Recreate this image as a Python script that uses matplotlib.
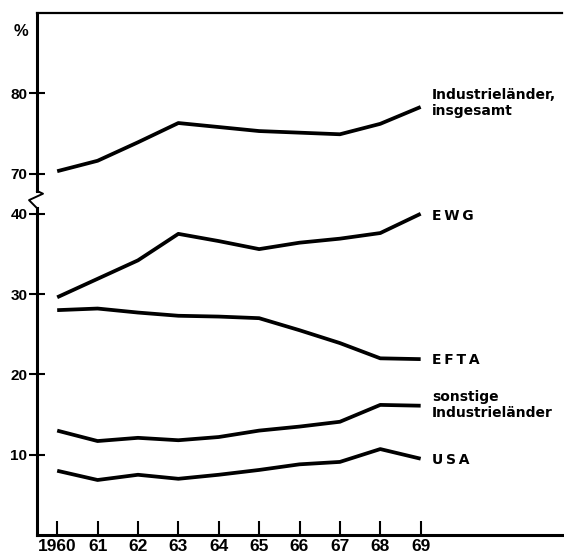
import matplotlib
matplotlib.use("Agg")
import matplotlib.pyplot as plt
from matplotlib import font_manager as fm

years = [1960, 1961, 1962, 1963, 1964, 1965, 1966, 1967, 1968, 1969]
year_labels = ["1960", "61", "62", "63", "64", "65", "66", "67", "68", "69"]

industrie_gesamt = [70.3, 71.6, 73.9, 76.3, 75.8, 75.3, 75.1, 74.9, 76.2, 78.3]
ewg = [29.6, 31.9, 34.2, 37.5, 36.6, 35.6, 36.4, 36.9, 37.6, 40.0]
efta = [28.0, 28.2, 27.7, 27.3, 27.2, 27.0, 25.5, 23.9, 22.0, 21.9]
sonstige = [13.0, 11.7, 12.1, 11.8, 12.2, 13.0, 13.5, 14.1, 16.2, 16.1]
usa = [8.0, 6.85, 7.5, 7.0, 7.5, 8.1, 8.8, 9.1, 10.7, 9.5]

lower_ticks = [10, 20, 30, 40]
upper_ticks = [70, 80]

names = {f.name for f in fm.fontManager.ttflist}
narrow = [f for f in ["Liberation Sans Narrow", "Liberation Sans", "DejaVu Sans"] if f in names]
wide = ["DejaVu Sans"]
plt.rcParams["font.family"] = narrow
plt.rcParams["font.weight"] = "bold"

W, H = 564, 555
fig = plt.figure(figsize=(W / 100, H / 100), dpi=100)

left_px, right_px = 37, 562
bottom_px, top_px = 535, 13
brk_px = 193.7
lx = left_px / W
wx = (right_px - left_px) / W
ax_lo = fig.add_axes([lx, (H - bottom_px) / H, wx, (bottom_px - brk_px) / H])
ax_hi = fig.add_axes([lx, (H - brk_px) / H, wx, (brk_px - top_px) / H])

xlim = (1959.5, 1972.5)
ax_lo.set_xlim(*xlim)
ax_hi.set_xlim(*xlim)
ax_lo.set_ylim(0, 42.5)
ax_hi.set_ylim(67.5, 90)

lw = 2.7
for ax in (ax_lo, ax_hi):
    ax.patch.set_alpha(0)
    ax.spines["right"].set_visible(False)
    for s in ax.spines.values():
        s.set_linewidth(2.2)

ax_lo.spines["top"].set_visible(False)
ax_hi.spines["bottom"].set_visible(False)
ax_hi.spines["top"].set_linewidth(1.6)
ax_lo.spines["left"].set_bounds(0, 40.7)
ax_hi.spines["left"].set_bounds(67.85, 90)

ax_hi.plot(years, industrie_gesamt, color="black", lw=lw, solid_capstyle="butt")
ax_lo.plot(years, ewg, color="black", lw=lw, solid_capstyle="butt")
ax_lo.plot(years, efta, color="black", lw=lw, solid_capstyle="butt")
ax_lo.plot(years, sonstige, color="black", lw=lw, solid_capstyle="butt")
ax_lo.plot(years, usa, color="black", lw=lw, solid_capstyle="butt")

# zigzag break on the left spine
tr = ax_lo.get_yaxis_transform()
ax_lo.plot([0, -0.0152, 0.0114, 0], [40.7, 41.7, 42.5, 42.85], transform=tr,
           color="black", lw=1.4, clip_on=False)

ax_lo.set_xticks(years)
ax_lo.set_xticklabels(year_labels)
ax_hi.set_xticks([])
ax_lo.tick_params(axis="x", direction="in", length=10, width=1.5, pad=3,
                  labelsize=12.5)
ax_lo.set_yticks(lower_ticks)
ax_hi.set_yticks(upper_ticks)
for ax in (ax_lo, ax_hi):
    ax.tick_params(axis="y", direction="inout", length=12, width=1.5, pad=1,
                   labelsize=11)
for lab in ax_lo.get_xticklabels() + ax_lo.get_yticklabels() + ax_hi.get_yticklabels():
    lab.set_fontweight("bold")

tx = 1969.28
th = "\u2009"
tkw = dict(fontsize=10, fontweight="bold", va="center", ha="left",
           linespacing=1.2, family=wide)
ax_hi.text(tx, industrie_gesamt[-1] + 0.45, "Industrieländer,\ninsgesamt", **tkw)
ax_lo.text(tx, ewg[-1] - 0.3, th.join("EWG"), **tkw)
ax_lo.text(tx, efta[-1] - 0.1, th.join("EFTA"), **tkw)
ax_lo.text(tx, sonstige[-1] + 0.1, "sonstige\nIndustrieländer", **tkw)
ax_lo.text(tx, usa[-1] - 0.2, th.join("USA"), **tkw)

fig.text(21.5 / W, 1 - 31.5 / H, "%", fontsize=12, fontweight="bold",
         ha="center", va="center")

fig.savefig("out.png", dpi=100)
